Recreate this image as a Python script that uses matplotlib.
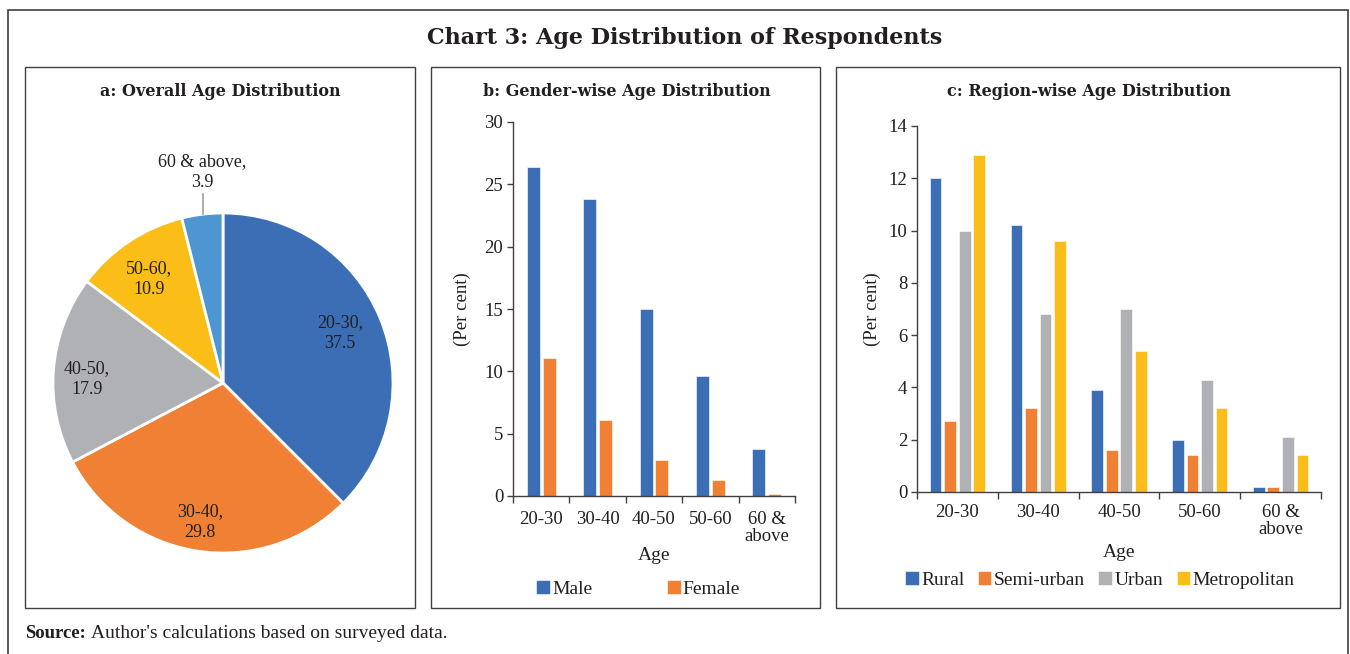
import numpy as np
import matplotlib.pyplot as plt
from matplotlib.patches import Rectangle

W, H = 1350, 654

# datos
edades = ['20-30', '30-40', '40-50', '50-60', '60 &\nabove']
pie_labels = ['20-30', '30-40', '40-50', '50-60', '60 & above']
pie_vals = [37.5, 29.8, 17.9, 10.9, 3.9]

male = [26.4, 23.8, 15.0, 9.6, 3.8]
female = [11.1, 6.1, 2.9, 1.3, 0.2]

rural = [12.0, 10.2, 3.9, 2.0, 0.2]
semi_urban = [2.7, 3.2, 1.6, 1.4, 0.2]
urban = [10.0, 6.8, 7.0, 4.3, 2.1]
metro = [12.9, 9.6, 5.4, 3.2, 1.4]

AZUL = '#3B6EB5'
NARANJA = '#F08134'
GRIS = '#B0B1B4'
AMARILLO = '#FBBD18'
CELESTE = '#4E96D2'
TXT = '#231F20'
BORDE = '#404040'

SERIF = 'Liberation Serif'
TITULO = 'DejaVu Serif'
FS = 14


def caja(x0, y0, x1, y1):
    # rectangulo en pixeles (origen arriba a la izquierda)
    return [x0 / W, 1 - y1 / H, (x1 - x0) / W, (y1 - y0) / H]


def marco(fig, x0, y0, x1, y1, lw=1.0):
    r = Rectangle((x0 / W, 1 - y1 / H), (x1 - x0) / W, (y1 - y0) / H,
                  transform=fig.transFigure, fill=False, edgecolor=BORDE,
                  linewidth=lw, clip_on=False)
    fig.add_artist(r)


fig = plt.figure(figsize=(W / 100, H / 100), dpi=100)
fig.patch.set_facecolor('white')

# marcos
marco(fig, 8, 10, 1348, 700, lw=1.2)
marco(fig, 25, 67, 415, 608)
marco(fig, 431, 67, 820, 608)
marco(fig, 836, 67, 1340, 608)

fig.text(685 / W, 1 - 38 / H, 'Chart 3: Age Distribution of Respondents',
         ha='center', va='center', fontsize=16, fontweight='bold',
         family=TITULO, color=TXT)
for xc, t in [(220, 'a: Overall Age Distribution'),
              (627, 'b: Gender-wise Age Distribution'),
              (1089, 'c: Region-wise Age Distribution')]:
    fig.text(xc / W, 1 - 91 / H, t, ha='center', va='center', fontsize=11.5,
             fontweight='bold', family=TITULO, color=TXT)

fig.text(25 / W, 1 - 634 / H, 'Source:', ha='left', va='center', fontsize=13.5,
         fontweight='bold', family=SERIF, color=TXT)
fig.text(91 / W, 1 - 634 / H, "Author's calculations based on surveyed data.",
         ha='left', va='center', fontsize=FS, family=SERIF, color=TXT)

# ---- a: pastel
ax_a = fig.add_axes(caja(53, 213, 393, 553))
colores_pie = [AZUL, NARANJA, GRIS, AMARILLO, CELESTE]
ax_a.pie(pie_vals, colors=colores_pie, startangle=90, counterclock=False,
         radius=1, wedgeprops=dict(edgecolor='white', linewidth=2))
ax_a.set_xlim(-1, 1)
ax_a.set_ylim(-1, 1)
ax_a.set_aspect('equal')
pos_etq = [(0.688, 0.294), (-0.135, -0.818), (-0.80, 0.024), (-0.435, 0.612), (-0.124, 1.24)]
for (x, y), lab, v in zip(pos_etq, pie_labels, pie_vals):
    ax_a.text(x, y, f'{lab},\n{v}', ha='center', va='center', fontsize=13,
              family=SERIF, color=TXT, linespacing=1.3, clip_on=False)
ax_a.plot([-0.118, -0.118], [0.995, 1.11], color='#A0A0A0', lw=1.2, clip_on=False)


def estilo_barras(ax, ymax, paso, pad_x, lab_x, lab_y):
    n = len(edades)
    ax.set_xlim(-0.5, n - 0.5)
    ax.set_ylim(0, ymax)
    ax.set_yticks(np.arange(0, ymax + 0.01, paso))
    ax.set_xticks(np.arange(n))
    ax.set_xticklabels(edades, fontsize=13.5, family=SERIF, color=TXT, linespacing=1.05)
    ax.set_xticks(np.arange(-0.5, n, 1), minor=True)
    ax.tick_params(axis='x', which='major', length=0, pad=pad_x)
    ax.tick_params(axis='x', which='minor', length=5, color=BORDE, width=1)
    ax.tick_params(axis='y', length=4, color=BORDE, width=1, pad=3)
    for t in ax.get_yticklabels():
        t.set_family(SERIF)
        t.set_fontsize(13.5)
        t.set_color(TXT)
    for s in ['top', 'right']:
        ax.spines[s].set_visible(False)
    for s in ['left', 'bottom']:
        ax.spines[s].set_color(BORDE)
        ax.spines[s].set_linewidth(1)
    ax.set_ylabel('(Per cent)', fontsize=13.5, family=SERIF, color=TXT, va='center')
    ax.set_xlabel('Age', fontsize=FS, family=SERIF, color=TXT, va='center')
    ax.yaxis.set_label_coords(lab_y, 0.5)
    ax.xaxis.set_label_coords(0.5, lab_x)


def leyenda(ax, ncol, x0, y, colsp):
    ax.legend(loc='center left', bbox_to_anchor=(x0, y), ncol=ncol, frameon=False,
              prop=dict(family=SERIF, size=FS), handlelength=0.7, handleheight=0.7,
              handletextpad=0.12, columnspacing=colsp, labelcolor=TXT,
              borderpad=0, borderaxespad=0)


x = np.arange(len(edades))

# ---- b: genero
ax_b = fig.add_axes(caja(513, 122, 795, 496))
wb = 0.23
ax_b.bar(x - 0.14, male, wb, color=AZUL, edgecolor='white', linewidth=0.4, label='Male')
ax_b.bar(x + 0.14, female, wb, color=NARANJA, edgecolor='white', linewidth=0.4, label='Female')
estilo_barras(ax_b, 30, 5, 10.5, -0.158, -0.181)
leyenda(ax_b, 2, (536 - 513) / 282, -0.249, 3.85)

# ---- c: region
ax_c = fig.add_axes(caja(917, 126, 1321, 492))
wc = 0.145
series = [(rural, AZUL, 'Rural'), (semi_urban, NARANJA, 'Semi-urban'),
          (urban, GRIS, 'Urban'), (metro, AMARILLO, 'Metropolitan')]
for i, (vals, col, nom) in enumerate(series):
    ax_c.bar(x + (i - 1.5) * 0.18, vals, wc, color=col, edgecolor='white',
             linewidth=0.4, label=nom)
estilo_barras(ax_c, 14, 2, 8.3, -0.164, -0.111)
leyenda(ax_c, 4, (905 - 917) / 404, -0.240, 0.7)

fig.savefig('out.png', dpi=100, facecolor='white')
